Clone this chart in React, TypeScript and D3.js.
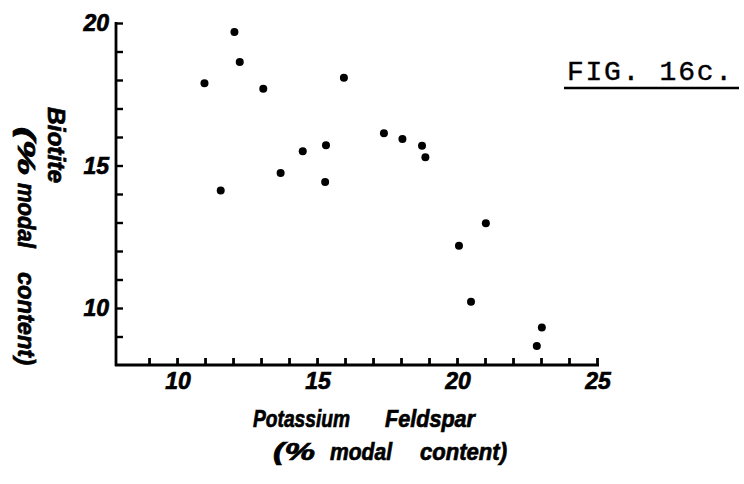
import React, { useEffect, useRef } from 'react';
import * as d3 from 'd3';

// Biotite vs potassium feldspar, both as % modal content (FIG. 16c)

const potassiumFeldspar = [12.05, 12.24, 10.98, 13.08, 15.96, 14.49, 15.32, 13.7, 15.29, 11.56,
  17.39, 18.05, 18.75, 18.87, 21.03, 20.07, 20.5, 23.03, 22.85];
const biotite = [19.68, 18.63, 17.89, 17.69, 18.08, 15.5, 15.71, 14.74, 14.42, 14.12,
  16.13, 15.93, 15.69, 15.29, 12.97, 12.18, 10.22, 9.32, 8.67];

const xTickValues = [9, 10, 11, 12, 13, 14, 15, 16, 17, 18, 19, 20, 21, 22, 23, 24, 25];
const xTickLabels = [10, 15, 20, 25];
const yTickValues = [9, 10, 11, 12, 13, 14, 15, 16, 17, 18, 19, 20];
const yTickLabels = [10, 15, 20];

const xTitle = [['Potassium', 'Feldspar'], ['(%', 'modal', 'content)']];
const yTitle = [['Biotite'], ['(%', 'modal', 'content)']];
const figLabel = 'FIG. 16c.';

const labelFont = '"Liberation Sans", Arial, sans-serif';

// word placement (start, length) along each title line, in px
const xTitlePos = [[[253, 97], [385, 90]], [[273, 42], [330, 62], [420, 87]]];
const xTitleBase = [427, 460];
const yTitlePos = [[[107, 76]], [[127, 48], [183, 65], [272, 93]]];
const yTitleBase = [48, 18];

// heavy italic lettering like the stencil labels
const letter = (sel: any, size: number) => sel
  .style('font-family', labelFont)
  .style('font-weight', 'bold')
  .style('font-style', 'italic')
  .style('font-size', `${size}px`)
  .attr('stroke', '#000')
  .attr('stroke-width', 0.7);

const ScatterChart = () => {
  const svgRef = useRef<SVGSVGElement>(null);

  useEffect(() => {
    if (!svgRef.current) return;
    const svg = d3.select(svgRef.current);
    svg.selectAll('*').remove();

    const width = 744;
    const height = 484;
    svg.attr('width', width).attr('height', height);

    svg.append('rect').attr('width', width).attr('height', height).attr('fill', '#fff');

    const x = d3.scaleLinear().domain([7.82, 25]).range([116, 597]);
    const y = d3.scaleLinear().domain([8, 20]).range([365, 23]);

    // y axis, ticks pointing in
    const yAxis = svg.append('g')
      .attr('transform', `translate(${x(7.82)},0)`)
      .call(d3.axisRight(y).tickValues(yTickValues).tickSize(7).tickFormat(() => ''));
    yAxis.select('.domain').remove();
    yAxis.selectAll('.tick line').attr('stroke', '#000').attr('stroke-width', 2.4);

    // x axis, ticks pointing up
    const xAxis = svg.append('g')
      .attr('transform', `translate(0,${y(8)})`)
      .call(d3.axisTop(x).tickValues(xTickValues).tickSize(7).tickFormat(() => ''));
    xAxis.select('.domain').remove();
    xAxis.selectAll('.tick line').attr('stroke', '#000').attr('stroke-width', 2.8);

    svg.append('line')
      .attr('x1', x(7.82)).attr('x2', x(7.82))
      .attr('y1', y(20) - 1).attr('y2', y(8) + 1)
      .attr('stroke', '#000').attr('stroke-width', 2.8);
    svg.append('line')
      .attr('x1', x(7.82) - 1).attr('x2', x(25) + 2)
      .attr('y1', y(8)).attr('y2', y(8))
      .attr('stroke', '#000').attr('stroke-width', 3.2);

    // tick labels
    svg.selectAll('.ylab')
      .data(yTickLabels)
      .join('text')
      .attr('class', 'ylab')
      .attr('x', 109)
      .attr('y', d => y(d) + 8)
      .attr('text-anchor', 'end')
      .call(letter, 23)
      .text(d => d);

    svg.selectAll('.xlab')
      .data(xTickLabels)
      .join('text')
      .attr('class', 'xlab')
      .attr('x', d => x(d) + 1)
      .attr('y', 389)
      .attr('text-anchor', 'middle')
      .call(letter, 23)
      .text(d => d);

    // axis titles, one text per word to keep the wide gaps
    const xWords = xTitle.flatMap((line, li) => line.map((w, wi) => ({
      t: w, x: xTitlePos[li][wi][0], len: xTitlePos[li][wi][1], y: xTitleBase[li],
    })));
    svg.selectAll('.xtitle')
      .data(xWords)
      .join('text')
      .attr('class', 'xtitle')
      .attr('x', d => d.x)
      .attr('y', d => d.y)
      .attr('textLength', d => d.len)
      .attr('lengthAdjust', 'spacingAndGlyphs')
      .call(letter, 24)
      .text(d => d.t);

    const yWords = yTitle.flatMap((line, li) => line.map((w, wi) => ({
      t: w, y: yTitlePos[li][wi][0], len: yTitlePos[li][wi][1], x: yTitleBase[li],
    })));
    svg.selectAll('.ytitle')
      .data(yWords)
      .join('text')
      .attr('class', 'ytitle')
      .attr('transform', d => `translate(${d.x},${d.y}) rotate(90)`)
      .attr('textLength', d => d.len)
      .attr('lengthAdjust', 'spacingAndGlyphs')
      .call(letter, 24)
      .text(d => d.t);

    // figure label
    svg.append('text')
      .attr('x', 567)
      .attr('y', 80)
      .attr('textLength', 165)
      .attr('lengthAdjust', 'spacing')
      .attr('stroke', '#000')
      .attr('stroke-width', 0.4)
      .style('font-family', '"Liberation Mono", "Courier New", monospace')
      .style('font-size', '28px')
      .text(figLabel);
    svg.append('line')
      .attr('x1', 564).attr('x2', 739)
      .attr('y1', 88).attr('y2', 88)
      .attr('stroke', '#000').attr('stroke-width', 2.5);

    // points
    svg.selectAll('.pt')
      .data(potassiumFeldspar.map((v, i) => [v, biotite[i]]))
      .join('circle')
      .attr('class', 'pt')
      .attr('cx', d => x(d[0]))
      .attr('cy', d => y(d[1]))
      .attr('r', 4)
      .attr('fill', '#000');
  }, []);

  return <svg ref={svgRef} style={{ position: 'absolute', left: 0, top: 0, display: 'block' }}></svg>;
};

export default function App() {
  return <ScatterChart />;
}
